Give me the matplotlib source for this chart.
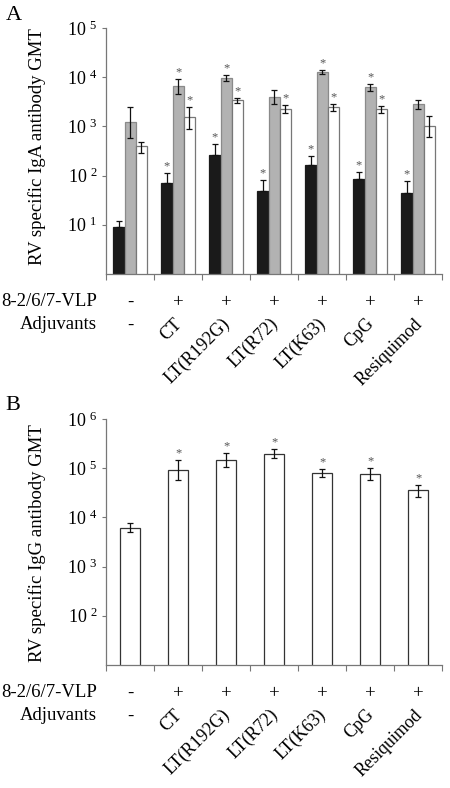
import matplotlib
matplotlib.use('Agg')
import matplotlib.pyplot as plt
from matplotlib.ticker import FixedLocator, NullFormatter
import numpy as np

plt.rcParams['font.family'] = ['Liberation Serif', 'DejaVu Serif']
plt.rcParams['mathtext.fontset'] = 'custom'
plt.rcParams['mathtext.rm'] = 'Liberation Serif'
plt.rcParams['mathtext.it'] = 'Liberation Serif'

vlp = ['-', '+', '+', '+', '+', '+', '+']
adjuvants = ['CT', 'LT(R192G)', 'LT(R72)', 'LT(K63)', 'CpG', 'Resiquimod']

# panel A: IgA GMT, three series per group (black, gray, white)
iga_black = [9, 70, 260, 48, 165, 85, 45]
iga_black_hi = [12, 112, 430, 80, 245, 118, 78]
iga_black_lo = [9, 70, 260, 48, 165, 85, 45]
iga_black_star = [0, 1, 1, 1, 1, 1, 1]

iga_gray = [1200, 6500, 9500, 3900, 12500, 6200, 2800]
iga_gray_hi = [2450, 9200, 11000, 5400, 13900, 7200, 3500]
iga_gray_lo = [570, 4500, 8300, 2800, 11500, 5200, 2300]
iga_gray_star = [0, 1, 1, 0, 1, 1, 0]

iga_white = [400, 1520, 3400, 2300, 2450, 2250, 1000]
iga_white_hi = [480, 2450, 3750, 2700, 2850, 2600, 1600]
iga_white_lo = [290, 900, 2950, 1900, 2050, 1850, 620]
iga_white_star = [0, 1, 1, 1, 1, 1, 0]

# panel B: IgG GMT
igg = [6000, 92000, 150000, 195000, 80000, 76000, 35500]
igg_hi = [7800, 145000, 205000, 240000, 97000, 102000, 45000]
igg_lo = [5100, 57000, 105000, 160000, 67000, 57000, 26000]
igg_star = [0, 1, 1, 1, 1, 1, 1]

fig = plt.figure(figsize=(4.5, 7.88), dpi=100)
axA = fig.add_axes([0.2356, 0.6523, 0.7467, 0.3122])
axB = fig.add_axes([0.2356, 0.1561, 0.7467, 0.3122])

x = np.arange(7)


def draw_bars(ax, xs, vals, lo, hi, stars, width, color, edge):
    ax.bar(xs, vals, width, color=color, edgecolor=edge, linewidth=0.9, zorder=2)
    yerr = [np.array(vals) - np.array(lo), np.array(hi) - np.array(vals)]
    ax.errorbar(xs, vals, yerr=yerr, fmt='none', ecolor='#111111', elinewidth=0.9,
                capsize=2.5, capthick=0.9, zorder=3)
    for xi, h, s in zip(xs, hi, stars):
        if s:
            ax.annotate('*', (xi, h), xytext=(0, 0.5), textcoords='offset points',
                        ha='center', va='bottom', fontsize=9, color='#555555')


def style_axis(ax, lo_exp, hi_exp):
    ax.set_yscale('log')
    ax.set_ylim(10 ** lo_exp, 10 ** hi_exp)
    ax.set_xlim(-0.5, 6.5)
    for s in ['top', 'right']:
        ax.spines[s].set_visible(False)
    for s in ['left', 'bottom']:
        ax.spines[s].set_color('#777777')
        ax.spines[s].set_linewidth(0.9)
    exps = list(range(lo_exp + 1, hi_exp + 1))
    ax.yaxis.set_major_locator(FixedLocator([10.0 ** e for e in exps]))
    ax.yaxis.set_minor_locator(FixedLocator([]))
    ax.set_yticklabels(['10 $^{%d}$' % e for e in exps])
    ax.tick_params(axis='y', length=3, color='#777777', labelsize=13, pad=3)
    ax.xaxis.set_major_locator(FixedLocator(np.arange(-0.5, 7, 1.0)))
    ax.xaxis.set_major_formatter(NullFormatter())
    ax.tick_params(axis='x', length=4, color='#777777')
    # row labels under the axis
    ax.text(-0.027, -0.112, '8-2/6/7-VLP', transform=ax.transAxes, ha='right', va='center', fontsize=13.5)
    ax.text(-0.027, -0.207, 'Adjuvants', transform=ax.transAxes, ha='right', va='center', fontsize=13.5)
    for i, v in enumerate(vlp):
        ax.annotate(v, (i, 0), xycoords=('data', 'axes fraction'), xytext=(0, -20.5),
                    textcoords='offset points', ha='center', va='center', fontsize=13.5)
    ax.annotate('-', (0, 0), xycoords=('data', 'axes fraction'), xytext=(0, -37),
                textcoords='offset points', ha='center', va='center', fontsize=13.5)
    for i, a in enumerate(adjuvants):
        ax.annotate(a, (i + 1, 0), xycoords=('data', 'axes fraction'), xytext=(1, -34),
                    textcoords='offset points', ha='right', va='center', rotation=45,
                    rotation_mode='anchor', fontsize=13)


w = 0.23
draw_bars(axA, x - w, iga_black, iga_black_lo, iga_black_hi, iga_black_star, w, '#1a1a1a', '#1a1a1a')
draw_bars(axA, x, iga_gray, iga_gray_lo, iga_gray_hi, iga_gray_star, w, '#b2b2b2', '#8a8a8a')
draw_bars(axA, x + w, iga_white, iga_white_lo, iga_white_hi, iga_white_star, w, 'white', '#777777')
style_axis(axA, 0, 5)

draw_bars(axB, x, igg, igg_lo, igg_hi, igg_star, 0.42, 'white', '#333333')
style_axis(axB, 1, 6)

fig.text(37 / 450, 1 - 147 / 788, 'RV specific IgA antibody GMT', rotation=90, ha='center', va='center', fontsize=13.5)
fig.text(37 / 450, 1 - 543 / 788, 'RV specific IgG antibody GMT', rotation=90, ha='center', va='center', fontsize=13.5)
fig.text(0.012, 1 - 16 / 788, 'A', ha='left', va='center', fontsize=16)
fig.text(0.012, 1 - 405 / 788, 'B', ha='left', va='center', fontsize=16)

fig.savefig('out.png', dpi=100)
